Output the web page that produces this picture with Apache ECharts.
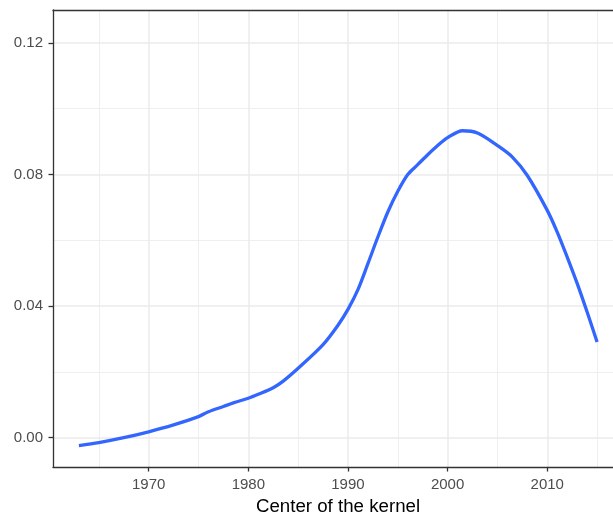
<!DOCTYPE html>
<html>
<head>
<meta charset="utf-8">
<script src="https://cdn.jsdelivr.net/npm/echarts@6/dist/echarts.min.js"></script>
<style>
  html, body { margin: 0; padding: 0; background: #fff; overflow: hidden; }
  /* panel runs past the right edge of the window, as in the original */
  #chart { width: 623px; height: 517px; }
</style>
</head>
<body>
<div id="chart"></div>
<script>
// kernel centers (years) and smoothed values
const years = [1963, 1965, 1967.5, 1970, 1972.5, 1975, 1976, 1977.5, 1978.5, 1980, 1981, 1982.5, 1983.5,
  1985, 1987.5, 1989, 1990, 1991, 1992, 1993, 1994, 1995, 1996, 1997, 1998, 1999, 2000,
  2001.5, 2003, 2005, 2006.5, 2008, 2010, 2011, 2012, 2013, 2014, 2015]
const values = [-0.0024, -0.0015, 0.0000, 0.0018, 0.0039, 0.0064, 0.0079, 0.0095, 0.0106, 0.0120, 0.0132, 0.0152, 0.0172,
  0.0211, 0.0283, 0.0342, 0.0390, 0.0450, 0.0529, 0.0610, 0.0686, 0.0749, 0.0800, 0.0830, 0.0860, 0.0888, 0.0912,
  0.0933, 0.0926, 0.0888, 0.0853, 0.0797, 0.0691, 0.0625, 0.0549, 0.0469, 0.0382, 0.0291]

const xMajor = [1970, 1980, 1990, 2000, 2010]
const xMinor = [1965, 1975, 1985, 1995, 2005, 2015]
const yMajor = [0, 0.04, 0.08, 0.12]
const yMinor = [0.02, 0.06, 0.10]

const xRange = [1960.4, 2017.6]
const yRange = [-0.0089, 0.1300]

const chart = echarts.init(document.getElementById('chart'), null, { renderer: 'canvas' })

const tickColor = '#333333'
const labelColor = '#4D4D4D'
const gridColor = '#EBEBEB'
const borderStyle = { color: tickColor, width: 1.3 }

chart.setOption({
  backgroundColor: '#ffffff',
  animation: false,
  grid: {
    left: 53,
    top: 10,
    right: 0,
    bottom: 50,
    outerBoundsMode: 'none',
    containLabel: false
  },
  xAxis: [{
    type: 'value',
    position: 'bottom',
    min: xRange[0],
    max: xRange[1],
    name: 'Center of the kernel',
    nameLocation: 'middle',
    nameGap: 28.5,
    nameTextStyle: { color: '#000000', fontSize: 18.7, fontFamily: 'Liberation Sans, Arial, sans-serif' },
    axisLine: { show: true, onZero: false, lineStyle: borderStyle },
    axisTick: { show: true, length: 4.5, customValues: xMajor, lineStyle: borderStyle },
    axisLabel: {
      customValues: xMajor,
      margin: 10.5,
      color: labelColor,
      fontSize: 15,
      fontFamily: 'Liberation Sans, Arial, sans-serif',
      formatter: v => String(Math.round(v))
    },
    splitLine: { show: true, lineStyle: { color: gridColor, width: 1.5 } }
  }, {
    // minor grid + top border of the panel
    type: 'value',
    position: 'top',
    min: xRange[0],
    max: xRange[1],
    axisLine: { show: true, onZero: false, lineStyle: borderStyle },
    axisTick: { show: false, customValues: xMinor },
    axisLabel: { show: false, customValues: xMinor },
    splitLine: { show: true, lineStyle: { color: gridColor, width: 0.8 } }
  }],
  yAxis: [{
    type: 'value',
    position: 'left',
    min: yRange[0],
    max: yRange[1],
    axisLine: { show: true, onZero: false, lineStyle: borderStyle },
    axisTick: { show: true, length: 4.5, customValues: yMajor, lineStyle: borderStyle },
    axisLabel: {
      customValues: yMajor,
      margin: 10,
      color: labelColor,
      fontSize: 15,
      fontFamily: 'Liberation Sans, Arial, sans-serif',
      formatter: v => v.toFixed(2)
    },
    splitLine: { show: true, lineStyle: { color: gridColor, width: 1.5 } }
  }, {
    type: 'value',
    position: 'right',
    min: yRange[0],
    max: yRange[1],
    axisLine: { show: true, onZero: false, lineStyle: borderStyle },
    axisTick: { show: false, customValues: yMinor },
    axisLabel: { show: false, customValues: yMinor },
    splitLine: { show: true, lineStyle: { color: gridColor, width: 0.8 } }
  }],
  series: [{
    type: 'line',
    xAxisIndex: 0,
    yAxisIndex: 0,
    data: years.map((y, i) => [y, values[i]]),
    showSymbol: false,
    smooth: 0.3,
    lineStyle: { color: '#3366FF', width: 3.3 },
    itemStyle: { color: '#3366FF' },
    z: 10
  }]
})
</script>
</body>
</html>
